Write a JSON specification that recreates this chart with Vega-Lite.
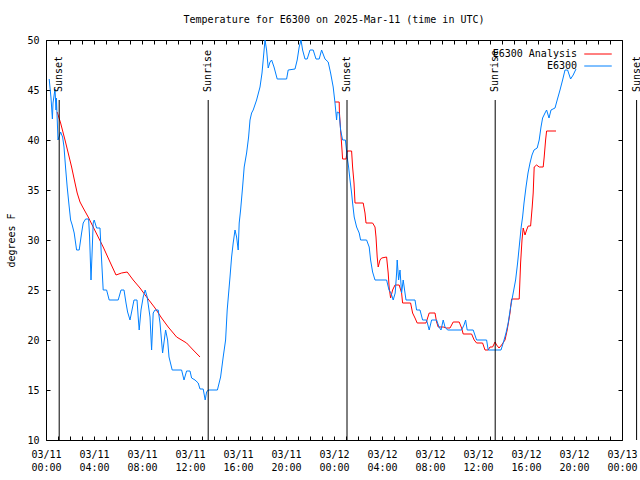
{
  "$schema": "https://vega.github.io/schema/vega-lite/v6.json",
  "width": 576,
  "height": 400,
  "autosize": {"type": "none"},
  "padding": {"left": 46, "top": 40, "right": 18, "bottom": 40},
  "background": "white",
  "title": {"text": "Temperature for E6300 on 2025-Mar-11 (time in UTC)", "font": "DejaVu Sans Mono", "fontSize": 10, "fontWeight": "normal", "color": "black", "anchor": "middle", "frame": "group", "offset": 10},
  "config": {
    "view": {"stroke": "black", "strokeWidth": 1},
    "axis": {"grid": false, "domain": false, "tickColor": "black", "tickSize": -4, "labelColor": "black", "labelFont": "DejaVu Sans Mono", "labelFontSize": 10, "titleFont": "DejaVu Sans Mono", "titleFontSize": 10, "titleFontWeight": "normal", "titleColor": "black"}
  },
  "datasets": {
    "temps": [
      {"series":"E6300","seg":1,"time":"2025-03-11T00:16:00Z","temp":46.1},
      {"series":"E6300","seg":1,"time":"2025-03-11T00:25:00Z","temp":44.2},
      {"series":"E6300","seg":1,"time":"2025-03-11T00:32:00Z","temp":42.1},
      {"series":"E6300","seg":1,"time":"2025-03-11T00:35:00Z","temp":43.7},
      {"series":"E6300","seg":1,"time":"2025-03-11T00:45:00Z","temp":45.1},
      {"series":"E6300","seg":1,"time":"2025-03-11T00:50:00Z","temp":43.0},
      {"series":"E6300","seg":1,"time":"2025-03-11T00:52:00Z","temp":44.2},
      {"series":"E6300","seg":1,"time":"2025-03-11T01:00:00Z","temp":40.0},
      {"series":"E6300","seg":1,"time":"2025-03-11T01:13:00Z","temp":40.8},
      {"series":"E6300","seg":1,"time":"2025-03-11T01:23:00Z","temp":40.3},
      {"series":"E6300","seg":1,"time":"2025-03-11T01:30:00Z","temp":39.3},
      {"series":"E6300","seg":1,"time":"2025-03-11T01:38:00Z","temp":37.2},
      {"series":"E6300","seg":1,"time":"2025-03-11T01:46:00Z","temp":35.3},
      {"series":"E6300","seg":1,"time":"2025-03-11T01:55:00Z","temp":33.5},
      {"series":"E6300","seg":1,"time":"2025-03-11T02:03:00Z","temp":32.0},
      {"series":"E6300","seg":1,"time":"2025-03-11T02:11:00Z","temp":31.5},
      {"series":"E6300","seg":1,"time":"2025-03-11T02:21:00Z","temp":30.7},
      {"series":"E6300","seg":1,"time":"2025-03-11T02:33:00Z","temp":29.0},
      {"series":"E6300","seg":1,"time":"2025-03-11T02:46:00Z","temp":29.0},
      {"series":"E6300","seg":1,"time":"2025-03-11T02:58:00Z","temp":30.7},
      {"series":"E6300","seg":1,"time":"2025-03-11T03:06:00Z","temp":31.7},
      {"series":"E6300","seg":1,"time":"2025-03-11T03:18:00Z","temp":32.1},
      {"series":"E6300","seg":1,"time":"2025-03-11T03:33:00Z","temp":32.1},
      {"series":"E6300","seg":1,"time":"2025-03-11T03:38:00Z","temp":30.3},
      {"series":"E6300","seg":1,"time":"2025-03-11T03:45:00Z","temp":26.0},
      {"series":"E6300","seg":1,"time":"2025-03-11T03:51:00Z","temp":29.0},
      {"series":"E6300","seg":1,"time":"2025-03-11T03:56:00Z","temp":31.7},
      {"series":"E6300","seg":1,"time":"2025-03-11T04:01:00Z","temp":32.0},
      {"series":"E6300","seg":1,"time":"2025-03-11T04:13:00Z","temp":31.2},
      {"series":"E6300","seg":1,"time":"2025-03-11T04:30:00Z","temp":31.2},
      {"series":"E6300","seg":1,"time":"2025-03-11T04:38:00Z","temp":28.0},
      {"series":"E6300","seg":1,"time":"2025-03-11T04:46:00Z","temp":25.0},
      {"series":"E6300","seg":1,"time":"2025-03-11T05:03:00Z","temp":25.0},
      {"series":"E6300","seg":1,"time":"2025-03-11T05:16:00Z","temp":24.0},
      {"series":"E6300","seg":1,"time":"2025-03-11T06:01:00Z","temp":24.0},
      {"series":"E6300","seg":1,"time":"2025-03-11T06:15:00Z","temp":25.0},
      {"series":"E6300","seg":1,"time":"2025-03-11T06:30:00Z","temp":25.0},
      {"series":"E6300","seg":1,"time":"2025-03-11T06:40:00Z","temp":23.7},
      {"series":"E6300","seg":1,"time":"2025-03-11T06:48:00Z","temp":22.8},
      {"series":"E6300","seg":1,"time":"2025-03-11T07:00:00Z","temp":22.0},
      {"series":"E6300","seg":1,"time":"2025-03-11T07:10:00Z","temp":23.0},
      {"series":"E6300","seg":1,"time":"2025-03-11T07:20:00Z","temp":24.0},
      {"series":"E6300","seg":1,"time":"2025-03-11T07:35:00Z","temp":24.0},
      {"series":"E6300","seg":1,"time":"2025-03-11T07:41:00Z","temp":22.3},
      {"series":"E6300","seg":1,"time":"2025-03-11T07:46:00Z","temp":21.0},
      {"series":"E6300","seg":1,"time":"2025-03-11T07:55:00Z","temp":23.0},
      {"series":"E6300","seg":1,"time":"2025-03-11T08:06:00Z","temp":24.3},
      {"series":"E6300","seg":1,"time":"2025-03-11T08:16:00Z","temp":25.0},
      {"series":"E6300","seg":1,"time":"2025-03-11T08:26:00Z","temp":24.3},
      {"series":"E6300","seg":1,"time":"2025-03-11T08:40:00Z","temp":22.3},
      {"series":"E6300","seg":1,"time":"2025-03-11T08:48:00Z","temp":19.0},
      {"series":"E6300","seg":1,"time":"2025-03-11T08:56:00Z","temp":22.7},
      {"series":"E6300","seg":1,"time":"2025-03-11T09:05:00Z","temp":23.0},
      {"series":"E6300","seg":1,"time":"2025-03-11T09:21:00Z","temp":23.0},
      {"series":"E6300","seg":1,"time":"2025-03-11T09:30:00Z","temp":21.7},
      {"series":"E6300","seg":1,"time":"2025-03-11T09:43:00Z","temp":18.7},
      {"series":"E6300","seg":1,"time":"2025-03-11T09:58:00Z","temp":21.0},
      {"series":"E6300","seg":1,"time":"2025-03-11T10:08:00Z","temp":20.0},
      {"series":"E6300","seg":1,"time":"2025-03-11T10:15:00Z","temp":18.3},
      {"series":"E6300","seg":1,"time":"2025-03-11T10:31:00Z","temp":17.0},
      {"series":"E6300","seg":1,"time":"2025-03-11T11:18:00Z","temp":17.0},
      {"series":"E6300","seg":1,"time":"2025-03-11T11:30:00Z","temp":16.0},
      {"series":"E6300","seg":1,"time":"2025-03-11T11:43:00Z","temp":16.9},
      {"series":"E6300","seg":1,"time":"2025-03-11T12:00:00Z","temp":16.9},
      {"series":"E6300","seg":1,"time":"2025-03-11T12:08:00Z","temp":16.2},
      {"series":"E6300","seg":1,"time":"2025-03-11T12:25:00Z","temp":16.0},
      {"series":"E6300","seg":1,"time":"2025-03-11T12:41:00Z","temp":15.7},
      {"series":"E6300","seg":1,"time":"2025-03-11T12:50:00Z","temp":15.1},
      {"series":"E6300","seg":1,"time":"2025-03-11T13:06:00Z","temp":15.1},
      {"series":"E6300","seg":1,"time":"2025-03-11T13:16:00Z","temp":14.0},
      {"series":"E6300","seg":1,"time":"2025-03-11T13:23:00Z","temp":14.8},
      {"series":"E6300","seg":1,"time":"2025-03-11T13:31:00Z","temp":15.0},
      {"series":"E6300","seg":1,"time":"2025-03-11T14:17:00Z","temp":15.0},
      {"series":"E6300","seg":1,"time":"2025-03-11T14:33:00Z","temp":16.3},
      {"series":"E6300","seg":1,"time":"2025-03-11T14:46:00Z","temp":18.3},
      {"series":"E6300","seg":1,"time":"2025-03-11T14:58:00Z","temp":20.0},
      {"series":"E6300","seg":1,"time":"2025-03-11T15:06:00Z","temp":23.0},
      {"series":"E6300","seg":1,"time":"2025-03-11T15:20:00Z","temp":26.3},
      {"series":"E6300","seg":1,"time":"2025-03-11T15:28:00Z","temp":28.3},
      {"series":"E6300","seg":1,"time":"2025-03-11T15:36:00Z","temp":29.7},
      {"series":"E6300","seg":1,"time":"2025-03-11T15:45:00Z","temp":31.0},
      {"series":"E6300","seg":1,"time":"2025-03-11T15:53:00Z","temp":30.3},
      {"series":"E6300","seg":1,"time":"2025-03-11T16:01:00Z","temp":29.0},
      {"series":"E6300","seg":1,"time":"2025-03-11T16:06:00Z","temp":31.7},
      {"series":"E6300","seg":1,"time":"2025-03-11T16:13:00Z","temp":33.0},
      {"series":"E6300","seg":1,"time":"2025-03-11T16:23:00Z","temp":35.3},
      {"series":"E6300","seg":1,"time":"2025-03-11T16:31:00Z","temp":37.3},
      {"series":"E6300","seg":1,"time":"2025-03-11T16:43:00Z","temp":38.7},
      {"series":"E6300","seg":1,"time":"2025-03-11T16:53:00Z","temp":40.3},
      {"series":"E6300","seg":1,"time":"2025-03-11T17:00:00Z","temp":42.0},
      {"series":"E6300","seg":1,"time":"2025-03-11T17:08:00Z","temp":42.7},
      {"series":"E6300","seg":1,"time":"2025-03-11T17:16:00Z","temp":43.0},
      {"series":"E6300","seg":1,"time":"2025-03-11T17:33:00Z","temp":44.0},
      {"series":"E6300","seg":1,"time":"2025-03-11T17:50:00Z","temp":45.3},
      {"series":"E6300","seg":1,"time":"2025-03-11T18:00:00Z","temp":46.7},
      {"series":"E6300","seg":1,"time":"2025-03-11T18:06:00Z","temp":48.0},
      {"series":"E6300","seg":1,"time":"2025-03-11T18:15:00Z","temp":50.0},
      {"series":"E6300","seg":1,"time":"2025-03-11T18:23:00Z","temp":49.0},
      {"series":"E6300","seg":1,"time":"2025-03-11T18:31:00Z","temp":47.2},
      {"series":"E6300","seg":1,"time":"2025-03-11T18:40:00Z","temp":47.8},
      {"series":"E6300","seg":1,"time":"2025-03-11T18:48:00Z","temp":48.0},
      {"series":"E6300","seg":1,"time":"2025-03-11T19:00:00Z","temp":47.3},
      {"series":"E6300","seg":1,"time":"2025-03-11T19:16:00Z","temp":46.1},
      {"series":"E6300","seg":1,"time":"2025-03-11T20:03:00Z","temp":46.1},
      {"series":"E6300","seg":1,"time":"2025-03-11T20:11:00Z","temp":47.0},
      {"series":"E6300","seg":1,"time":"2025-03-11T20:45:00Z","temp":47.1},
      {"series":"E6300","seg":1,"time":"2025-03-11T20:56:00Z","temp":48.0},
      {"series":"E6300","seg":1,"time":"2025-03-11T21:06:00Z","temp":49.3},
      {"series":"E6300","seg":1,"time":"2025-03-11T21:15:00Z","temp":50.0},
      {"series":"E6300","seg":1,"time":"2025-03-11T21:23:00Z","temp":49.0},
      {"series":"E6300","seg":1,"time":"2025-03-11T21:35:00Z","temp":48.1},
      {"series":"E6300","seg":1,"time":"2025-03-11T21:46:00Z","temp":48.1},
      {"series":"E6300","seg":1,"time":"2025-03-11T22:00:00Z","temp":49.0},
      {"series":"E6300","seg":1,"time":"2025-03-11T22:16:00Z","temp":49.0},
      {"series":"E6300","seg":1,"time":"2025-03-11T22:30:00Z","temp":48.1},
      {"series":"E6300","seg":1,"time":"2025-03-11T22:46:00Z","temp":48.1},
      {"series":"E6300","seg":1,"time":"2025-03-11T22:58:00Z","temp":49.0},
      {"series":"E6300","seg":1,"time":"2025-03-11T23:15:00Z","temp":48.1},
      {"series":"E6300","seg":1,"time":"2025-03-11T23:31:00Z","temp":47.8},
      {"series":"E6300","seg":1,"time":"2025-03-11T23:43:00Z","temp":46.7},
      {"series":"E6300","seg":1,"time":"2025-03-11T23:56:00Z","temp":45.3},
      {"series":"E6300","seg":1,"time":"2025-03-12T00:05:00Z","temp":43.7},
      {"series":"E6300","seg":1,"time":"2025-03-12T00:13:00Z","temp":42.0},
      {"series":"E6300","seg":1,"time":"2025-03-12T00:16:00Z","temp":42.8},
      {"series":"E6300","seg":1,"time":"2025-03-12T00:26:00Z","temp":42.7},
      {"series":"E6300","seg":1,"time":"2025-03-12T00:33:00Z","temp":41.0},
      {"series":"E6300","seg":1,"time":"2025-03-12T00:43:00Z","temp":40.0},
      {"series":"E6300","seg":1,"time":"2025-03-12T00:57:00Z","temp":40.0},
      {"series":"E6300","seg":1,"time":"2025-03-12T01:06:00Z","temp":38.3},
      {"series":"E6300","seg":1,"time":"2025-03-12T01:13:00Z","temp":37.3},
      {"series":"E6300","seg":1,"time":"2025-03-12T01:20:00Z","temp":36.0},
      {"series":"E6300","seg":1,"time":"2025-03-12T01:28:00Z","temp":34.7},
      {"series":"E6300","seg":1,"time":"2025-03-12T01:33:00Z","temp":33.7},
      {"series":"E6300","seg":1,"time":"2025-03-12T01:41:00Z","temp":32.3},
      {"series":"E6300","seg":1,"time":"2025-03-12T01:53:00Z","temp":31.3},
      {"series":"E6300","seg":1,"time":"2025-03-12T02:06:00Z","temp":30.7},
      {"series":"E6300","seg":1,"time":"2025-03-12T02:13:00Z","temp":30.0},
      {"series":"E6300","seg":1,"time":"2025-03-12T02:43:00Z","temp":30.0},
      {"series":"E6300","seg":1,"time":"2025-03-12T02:56:00Z","temp":29.3},
      {"series":"E6300","seg":1,"time":"2025-03-12T03:03:00Z","temp":28.0},
      {"series":"E6300","seg":1,"time":"2025-03-12T03:13:00Z","temp":26.8},
      {"series":"E6300","seg":1,"time":"2025-03-12T03:25:00Z","temp":26.0},
      {"series":"E6300","seg":1,"time":"2025-03-12T04:23:00Z","temp":26.0},
      {"series":"E6300","seg":1,"time":"2025-03-12T04:35:00Z","temp":25.0},
      {"series":"E6300","seg":1,"time":"2025-03-12T04:45:00Z","temp":24.7},
      {"series":"E6300","seg":1,"time":"2025-03-12T04:56:00Z","temp":24.0},
      {"series":"E6300","seg":1,"time":"2025-03-12T05:06:00Z","temp":24.7},
      {"series":"E6300","seg":1,"time":"2025-03-12T05:13:00Z","temp":26.7},
      {"series":"E6300","seg":1,"time":"2025-03-12T05:16:00Z","temp":28.0},
      {"series":"E6300","seg":1,"time":"2025-03-12T05:23:00Z","temp":26.0},
      {"series":"E6300","seg":1,"time":"2025-03-12T05:30:00Z","temp":27.0},
      {"series":"E6300","seg":1,"time":"2025-03-12T05:38:00Z","temp":24.7},
      {"series":"E6300","seg":1,"time":"2025-03-12T05:46:00Z","temp":26.0},
      {"series":"E6300","seg":1,"time":"2025-03-12T05:55:00Z","temp":24.7},
      {"series":"E6300","seg":1,"time":"2025-03-12T06:00:00Z","temp":24.0},
      {"series":"E6300","seg":1,"time":"2025-03-12T06:45:00Z","temp":24.0},
      {"series":"E6300","seg":1,"time":"2025-03-12T06:53:00Z","temp":23.0},
      {"series":"E6300","seg":1,"time":"2025-03-12T07:10:00Z","temp":23.0},
      {"series":"E6300","seg":1,"time":"2025-03-12T07:23:00Z","temp":22.0},
      {"series":"E6300","seg":1,"time":"2025-03-12T07:43:00Z","temp":22.0},
      {"series":"E6300","seg":1,"time":"2025-03-12T07:56:00Z","temp":21.0},
      {"series":"E6300","seg":1,"time":"2025-03-12T08:08:00Z","temp":22.0},
      {"series":"E6300","seg":1,"time":"2025-03-12T08:33:00Z","temp":22.0},
      {"series":"E6300","seg":1,"time":"2025-03-12T08:45:00Z","temp":21.3},
      {"series":"E6300","seg":1,"time":"2025-03-12T08:55:00Z","temp":21.0},
      {"series":"E6300","seg":1,"time":"2025-03-12T09:06:00Z","temp":22.0},
      {"series":"E6300","seg":1,"time":"2025-03-12T09:15:00Z","temp":21.3},
      {"series":"E6300","seg":1,"time":"2025-03-12T09:28:00Z","temp":21.0},
      {"series":"E6300","seg":1,"time":"2025-03-12T10:38:00Z","temp":21.0},
      {"series":"E6300","seg":1,"time":"2025-03-12T10:50:00Z","temp":21.5},
      {"series":"E6300","seg":1,"time":"2025-03-12T10:58:00Z","temp":22.0},
      {"series":"E6300","seg":1,"time":"2025-03-12T11:06:00Z","temp":21.0},
      {"series":"E6300","seg":1,"time":"2025-03-12T11:36:00Z","temp":21.0},
      {"series":"E6300","seg":1,"time":"2025-03-12T11:53:00Z","temp":20.0},
      {"series":"E6300","seg":1,"time":"2025-03-12T12:43:00Z","temp":20.0},
      {"series":"E6300","seg":1,"time":"2025-03-12T12:51:00Z","temp":19.0},
      {"series":"E6300","seg":1,"time":"2025-03-12T13:55:00Z","temp":19.0},
      {"series":"E6300","seg":1,"time":"2025-03-12T14:06:00Z","temp":19.7},
      {"series":"E6300","seg":1,"time":"2025-03-12T14:20:00Z","temp":20.7},
      {"series":"E6300","seg":1,"time":"2025-03-12T14:31:00Z","temp":21.7},
      {"series":"E6300","seg":1,"time":"2025-03-12T14:43:00Z","temp":23.3},
      {"series":"E6300","seg":1,"time":"2025-03-12T14:56:00Z","temp":24.7},
      {"series":"E6300","seg":1,"time":"2025-03-12T15:08:00Z","temp":26.0},
      {"series":"E6300","seg":1,"time":"2025-03-12T15:18:00Z","temp":27.7},
      {"series":"E6300","seg":1,"time":"2025-03-12T15:26:00Z","temp":29.3},
      {"series":"E6300","seg":1,"time":"2025-03-12T15:36:00Z","temp":31.3},
      {"series":"E6300","seg":1,"time":"2025-03-12T15:43:00Z","temp":32.3},
      {"series":"E6300","seg":1,"time":"2025-03-12T15:50:00Z","temp":33.7},
      {"series":"E6300","seg":1,"time":"2025-03-12T16:00:00Z","temp":35.3},
      {"series":"E6300","seg":1,"time":"2025-03-12T16:10:00Z","temp":36.7},
      {"series":"E6300","seg":1,"time":"2025-03-12T16:20:00Z","temp":37.7},
      {"series":"E6300","seg":1,"time":"2025-03-12T16:30:00Z","temp":38.5},
      {"series":"E6300","seg":1,"time":"2025-03-12T16:40:00Z","temp":39.0},
      {"series":"E6300","seg":1,"time":"2025-03-12T16:56:00Z","temp":39.2},
      {"series":"E6300","seg":1,"time":"2025-03-12T17:06:00Z","temp":40.0},
      {"series":"E6300","seg":1,"time":"2025-03-12T17:15:00Z","temp":41.3},
      {"series":"E6300","seg":1,"time":"2025-03-12T17:23:00Z","temp":42.2},
      {"series":"E6300","seg":1,"time":"2025-03-12T17:35:00Z","temp":42.7},
      {"series":"E6300","seg":1,"time":"2025-03-12T17:43:00Z","temp":43.0},
      {"series":"E6300","seg":1,"time":"2025-03-12T17:55:00Z","temp":42.2},
      {"series":"E6300","seg":1,"time":"2025-03-12T18:05:00Z","temp":43.0},
      {"series":"E6300","seg":1,"time":"2025-03-12T18:25:00Z","temp":43.2},
      {"series":"E6300","seg":1,"time":"2025-03-12T18:36:00Z","temp":44.0},
      {"series":"E6300","seg":1,"time":"2025-03-12T18:50:00Z","temp":45.0},
      {"series":"E6300","seg":1,"time":"2025-03-12T19:03:00Z","temp":46.0},
      {"series":"E6300","seg":1,"time":"2025-03-12T19:15:00Z","temp":47.0},
      {"series":"E6300","seg":1,"time":"2025-03-12T19:28:00Z","temp":47.0},
      {"series":"E6300","seg":1,"time":"2025-03-12T19:43:00Z","temp":46.1},
      {"series":"E6300","seg":1,"time":"2025-03-12T19:56:00Z","temp":46.5},
      {"series":"E6300","seg":1,"time":"2025-03-12T20:10:00Z","temp":47.1},
      {"series":"E6300 Analysis","seg":1,"time":"2025-03-11T00:56:00Z","temp":42.8},
      {"series":"E6300 Analysis","seg":1,"time":"2025-03-11T01:13:00Z","temp":41.7},
      {"series":"E6300 Analysis","seg":1,"time":"2025-03-11T01:35:00Z","temp":40.0},
      {"series":"E6300 Analysis","seg":1,"time":"2025-03-11T01:51:00Z","temp":38.7},
      {"series":"E6300 Analysis","seg":1,"time":"2025-03-11T02:08:00Z","temp":37.3},
      {"series":"E6300 Analysis","seg":1,"time":"2025-03-11T02:25:00Z","temp":35.7},
      {"series":"E6300 Analysis","seg":1,"time":"2025-03-11T02:36:00Z","temp":34.7},
      {"series":"E6300 Analysis","seg":1,"time":"2025-03-11T02:50:00Z","temp":33.8},
      {"series":"E6300 Analysis","seg":1,"time":"2025-03-11T03:06:00Z","temp":33.2},
      {"series":"E6300 Analysis","seg":1,"time":"2025-03-11T03:31:00Z","temp":32.3},
      {"series":"E6300 Analysis","seg":1,"time":"2025-03-11T03:56:00Z","temp":31.3},
      {"series":"E6300 Analysis","seg":1,"time":"2025-03-11T04:21:00Z","temp":30.3},
      {"series":"E6300 Analysis","seg":1,"time":"2025-03-11T04:46:00Z","temp":29.3},
      {"series":"E6300 Analysis","seg":1,"time":"2025-03-11T05:20:00Z","temp":27.8},
      {"series":"E6300 Analysis","seg":1,"time":"2025-03-11T05:50:00Z","temp":26.5},
      {"series":"E6300 Analysis","seg":1,"time":"2025-03-11T06:18:00Z","temp":26.7},
      {"series":"E6300 Analysis","seg":1,"time":"2025-03-11T06:46:00Z","temp":26.8},
      {"series":"E6300 Analysis","seg":1,"time":"2025-03-11T07:16:00Z","temp":26.0},
      {"series":"E6300 Analysis","seg":1,"time":"2025-03-11T07:50:00Z","temp":25.2},
      {"series":"E6300 Analysis","seg":1,"time":"2025-03-11T08:23:00Z","temp":24.3},
      {"series":"E6300 Analysis","seg":1,"time":"2025-03-11T09:05:00Z","temp":23.2},
      {"series":"E6300 Analysis","seg":1,"time":"2025-03-11T09:38:00Z","temp":22.2},
      {"series":"E6300 Analysis","seg":1,"time":"2025-03-11T10:11:00Z","temp":21.3},
      {"series":"E6300 Analysis","seg":1,"time":"2025-03-11T10:53:00Z","temp":20.3},
      {"series":"E6300 Analysis","seg":1,"time":"2025-03-11T11:43:00Z","temp":19.7},
      {"series":"E6300 Analysis","seg":1,"time":"2025-03-11T12:16:00Z","temp":19.0},
      {"series":"E6300 Analysis","seg":1,"time":"2025-03-11T12:50:00Z","temp":18.3},
      {"series":"E6300 Analysis","seg":2,"time":"2025-03-12T00:05:00Z","temp":43.8},
      {"series":"E6300 Analysis","seg":2,"time":"2025-03-12T00:26:00Z","temp":43.8},
      {"series":"E6300 Analysis","seg":2,"time":"2025-03-12T00:27:00Z","temp":42.8},
      {"series":"E6300 Analysis","seg":2,"time":"2025-03-12T00:33:00Z","temp":41.0},
      {"series":"E6300 Analysis","seg":2,"time":"2025-03-12T00:40:00Z","temp":39.0},
      {"series":"E6300 Analysis","seg":2,"time":"2025-03-12T00:43:00Z","temp":38.1},
      {"series":"E6300 Analysis","seg":2,"time":"2025-03-12T01:00:00Z","temp":38.1},
      {"series":"E6300 Analysis","seg":2,"time":"2025-03-12T01:06:00Z","temp":38.9},
      {"series":"E6300 Analysis","seg":2,"time":"2025-03-12T01:28:00Z","temp":38.9},
      {"series":"E6300 Analysis","seg":2,"time":"2025-03-12T01:33:00Z","temp":37.3},
      {"series":"E6300 Analysis","seg":2,"time":"2025-03-12T01:40:00Z","temp":35.7},
      {"series":"E6300 Analysis","seg":2,"time":"2025-03-12T01:45:00Z","temp":33.7},
      {"series":"E6300 Analysis","seg":2,"time":"2025-03-12T02:26:00Z","temp":33.7},
      {"series":"E6300 Analysis","seg":2,"time":"2025-03-12T02:35:00Z","temp":32.7},
      {"series":"E6300 Analysis","seg":2,"time":"2025-03-12T02:40:00Z","temp":31.7},
      {"series":"E6300 Analysis","seg":2,"time":"2025-03-12T03:13:00Z","temp":31.7},
      {"series":"E6300 Analysis","seg":2,"time":"2025-03-12T03:25:00Z","temp":31.3},
      {"series":"E6300 Analysis","seg":2,"time":"2025-03-12T03:30:00Z","temp":30.3},
      {"series":"E6300 Analysis","seg":2,"time":"2025-03-12T03:36:00Z","temp":28.3},
      {"series":"E6300 Analysis","seg":2,"time":"2025-03-12T03:41:00Z","temp":27.3},
      {"series":"E6300 Analysis","seg":2,"time":"2025-03-12T03:50:00Z","temp":28.0},
      {"series":"E6300 Analysis","seg":2,"time":"2025-03-12T03:58:00Z","temp":28.2},
      {"series":"E6300 Analysis","seg":2,"time":"2025-03-12T04:23:00Z","temp":28.3},
      {"series":"E6300 Analysis","seg":2,"time":"2025-03-12T04:31:00Z","temp":26.7},
      {"series":"E6300 Analysis","seg":2,"time":"2025-03-12T04:36:00Z","temp":25.2},
      {"series":"E6300 Analysis","seg":2,"time":"2025-03-12T04:43:00Z","temp":24.2},
      {"series":"E6300 Analysis","seg":2,"time":"2025-03-12T04:53:00Z","temp":25.0},
      {"series":"E6300 Analysis","seg":2,"time":"2025-03-12T05:05:00Z","temp":25.5},
      {"series":"E6300 Analysis","seg":2,"time":"2025-03-12T05:26:00Z","temp":25.5},
      {"series":"E6300 Analysis","seg":2,"time":"2025-03-12T05:38:00Z","temp":24.7},
      {"series":"E6300 Analysis","seg":2,"time":"2025-03-12T05:43:00Z","temp":23.7},
      {"series":"E6300 Analysis","seg":2,"time":"2025-03-12T06:23:00Z","temp":23.7},
      {"series":"E6300 Analysis","seg":2,"time":"2025-03-12T06:33:00Z","temp":22.7},
      {"series":"E6300 Analysis","seg":2,"time":"2025-03-12T06:45:00Z","temp":22.2},
      {"series":"E6300 Analysis","seg":2,"time":"2025-03-12T06:56:00Z","temp":21.7},
      {"series":"E6300 Analysis","seg":2,"time":"2025-03-12T07:40:00Z","temp":21.7},
      {"series":"E6300 Analysis","seg":2,"time":"2025-03-12T07:56:00Z","temp":22.7},
      {"series":"E6300 Analysis","seg":2,"time":"2025-03-12T08:25:00Z","temp":22.7},
      {"series":"E6300 Analysis","seg":2,"time":"2025-03-12T08:33:00Z","temp":21.8},
      {"series":"E6300 Analysis","seg":2,"time":"2025-03-12T08:41:00Z","temp":21.3},
      {"series":"E6300 Analysis","seg":2,"time":"2025-03-12T09:06:00Z","temp":21.3},
      {"series":"E6300 Analysis","seg":2,"time":"2025-03-12T09:23:00Z","temp":21.2},
      {"series":"E6300 Analysis","seg":2,"time":"2025-03-12T09:40:00Z","temp":21.2},
      {"series":"E6300 Analysis","seg":2,"time":"2025-03-12T09:56:00Z","temp":21.8},
      {"series":"E6300 Analysis","seg":2,"time":"2025-03-12T10:26:00Z","temp":21.8},
      {"series":"E6300 Analysis","seg":2,"time":"2025-03-12T10:38:00Z","temp":21.2},
      {"series":"E6300 Analysis","seg":2,"time":"2025-03-12T10:46:00Z","temp":20.6},
      {"series":"E6300 Analysis","seg":2,"time":"2025-03-12T11:28:00Z","temp":20.6},
      {"series":"E6300 Analysis","seg":2,"time":"2025-03-12T11:41:00Z","temp":20.0},
      {"series":"E6300 Analysis","seg":2,"time":"2025-03-12T11:53:00Z","temp":19.7},
      {"series":"E6300 Analysis","seg":2,"time":"2025-03-12T12:23:00Z","temp":19.7},
      {"series":"E6300 Analysis","seg":2,"time":"2025-03-12T12:35:00Z","temp":19.0},
      {"series":"E6300 Analysis","seg":2,"time":"2025-03-12T12:51:00Z","temp":19.0},
      {"series":"E6300 Analysis","seg":2,"time":"2025-03-12T13:00:00Z","temp":19.3},
      {"series":"E6300 Analysis","seg":2,"time":"2025-03-12T13:13:00Z","temp":19.3},
      {"series":"E6300 Analysis","seg":2,"time":"2025-03-12T13:25:00Z","temp":19.8},
      {"series":"E6300 Analysis","seg":2,"time":"2025-03-12T13:33:00Z","temp":19.5},
      {"series":"E6300 Analysis","seg":2,"time":"2025-03-12T13:45:00Z","temp":19.2},
      {"series":"E6300 Analysis","seg":2,"time":"2025-03-12T13:58:00Z","temp":19.5},
      {"series":"E6300 Analysis","seg":2,"time":"2025-03-12T14:15:00Z","temp":20.0},
      {"series":"E6300 Analysis","seg":2,"time":"2025-03-12T14:26:00Z","temp":21.0},
      {"series":"E6300 Analysis","seg":2,"time":"2025-03-12T14:40:00Z","temp":22.7},
      {"series":"E6300 Analysis","seg":2,"time":"2025-03-12T14:48:00Z","temp":24.1},
      {"series":"E6300 Analysis","seg":2,"time":"2025-03-12T15:26:00Z","temp":24.1},
      {"series":"E6300 Analysis","seg":2,"time":"2025-03-12T15:33:00Z","temp":27.7},
      {"series":"E6300 Analysis","seg":2,"time":"2025-03-12T15:40:00Z","temp":30.0},
      {"series":"E6300 Analysis","seg":2,"time":"2025-03-12T15:46:00Z","temp":31.2},
      {"series":"E6300 Analysis","seg":2,"time":"2025-03-12T15:55:00Z","temp":30.5},
      {"series":"E6300 Analysis","seg":2,"time":"2025-03-12T16:03:00Z","temp":31.0},
      {"series":"E6300 Analysis","seg":2,"time":"2025-03-12T16:11:00Z","temp":31.4},
      {"series":"E6300 Analysis","seg":2,"time":"2025-03-12T16:23:00Z","temp":31.4},
      {"series":"E6300 Analysis","seg":2,"time":"2025-03-12T16:31:00Z","temp":33.3},
      {"series":"E6300 Analysis","seg":2,"time":"2025-03-12T16:36:00Z","temp":34.7},
      {"series":"E6300 Analysis","seg":2,"time":"2025-03-12T16:41:00Z","temp":37.3},
      {"series":"E6300 Analysis","seg":2,"time":"2025-03-12T16:53:00Z","temp":37.5},
      {"series":"E6300 Analysis","seg":2,"time":"2025-03-12T17:06:00Z","temp":37.3},
      {"series":"E6300 Analysis","seg":2,"time":"2025-03-12T17:26:00Z","temp":37.3},
      {"series":"E6300 Analysis","seg":2,"time":"2025-03-12T17:31:00Z","temp":38.3},
      {"series":"E6300 Analysis","seg":2,"time":"2025-03-12T17:38:00Z","temp":40.0},
      {"series":"E6300 Analysis","seg":2,"time":"2025-03-12T17:43:00Z","temp":40.9},
      {"series":"E6300 Analysis","seg":2,"time":"2025-03-12T18:30:00Z","temp":40.9}
    ],
    "sun": [
      {"time":"2025-03-11T01:06:00Z","event":"Sunset"},
      {"time":"2025-03-11T13:31:00Z","event":"Sunrise"},
      {"time":"2025-03-12T01:05:00Z","event":"Sunset"},
      {"time":"2025-03-12T13:26:00Z","event":"Sunrise"},
      {"time":"2025-03-13T01:13:00Z","event":"Sunset"}
    ]
  },
  "resolve": {"axis": {"x": "independent", "y": "independent"}},
  "layer": [
    {
      "data": {"name": "temps"},
      "transform": [{"filter": "datum.series == 'E6300 Analysis'"}],
      "mark": {"type": "line", "strokeWidth": 1},
      "encoding": {
        "x": {"field": "time", "type": "temporal",
              "scale": {"type": "utc", "domain": [{"year": 2025, "month": 3, "date": 11, "utc": true}, {"year": 2025, "month": 3, "date": 13, "utc": true}], "nice": false},
              "axis": {"title": null, "orient": "bottom", "tickCount": 48, "labelExpr": "utchours(datum.value) % 4 == 0 ? [utcFormat(datum.value, '%m/%d'), utcFormat(datum.value, '%H:%M')] : ''", "labelOverlap": false, "labelFlush": false, "labelPadding": 13, "labelLineHeight": 13, "labelAngle": 0}},
        "y": {"field": "temp", "type": "quantitative",
              "scale": {"domain": [10, 50], "nice": false, "zero": false},
              "axis": {"title": "degrees F", "orient": "left", "values": [10, 15, 20, 25, 30, 35, 40, 45, 50], "labelPadding": 11, "titlePadding": 10}},
        "color": {"field": "series", "type": "nominal",
                  "scale": {"domain": ["E6300 Analysis", "E6300"], "range": ["#ff0000", "#0080ff"]},
                  "legend": {"title": null, "orient": "top-right", "offset": 8, "padding": 0, "labelFont": "DejaVu Sans Mono", "labelFontSize": 10, "labelColor": "black", "symbolType": "M-2.5,0H2.5", "symbolSize": 121, "symbolStrokeWidth": 1, "labelAlign": "right", "labelOffset": -27, "rowPadding": 1}},
        "detail": {"field": "seg", "type": "nominal"}
      }
    },
    {
      "data": {"name": "temps"},
      "transform": [{"filter": "datum.series == 'E6300'"}],
      "mark": {"type": "line", "strokeWidth": 1},
      "encoding": {
        "x": {"field": "time", "type": "temporal", "axis": null},
        "y": {"field": "temp", "type": "quantitative", "axis": null},
        "color": {"field": "series", "type": "nominal"},
        "detail": {"field": "seg", "type": "nominal"}
      }
    },
    {
      "data": {"name": "temps"},
      "mark": {"type": "line", "strokeOpacity": 0},
      "encoding": {
        "x": {"field": "time", "type": "temporal", "axis": {"orient": "top", "title": null, "labels": false, "tickCount": 48}},
        "y": {"field": "temp", "type": "quantitative", "axis": {"orient": "right", "title": null, "labels": false, "values": [10, 15, 20, 25, 30, 35, 40, 45, 50]}},
        "detail": {"field": "series", "type": "nominal"}
      }
    },
    {
      "data": {"name": "sun"},
      "mark": {"type": "rule", "color": "black", "strokeWidth": 1},
      "encoding": {
        "x": {"field": "time", "type": "temporal", "axis": null},
        "y": {"datum": 10, "axis": null},
        "y2": {"datum": 44}
      }
    },
    {
      "data": {"name": "sun"},
      "mark": {"type": "text", "angle": 270, "align": "left", "baseline": "middle", "font": "DejaVu Sans Mono", "fontSize": 10, "color": "black"},
      "encoding": {
        "x": {"field": "time", "type": "temporal", "axis": null},
        "y": {"datum": 44.8, "axis": null},
        "text": {"field": "event"}
      }
    }
  ]
}
